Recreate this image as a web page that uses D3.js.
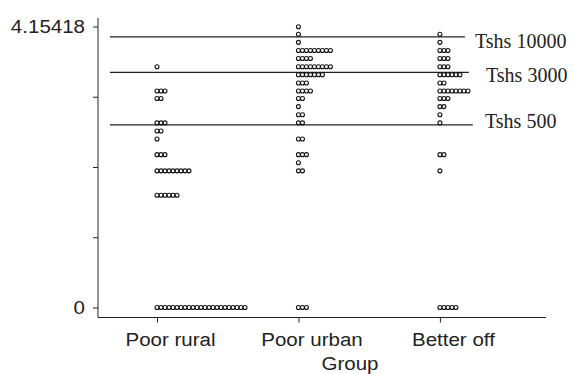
<!DOCTYPE html>
<html>
<head>
<meta charset="utf-8">
<script src="https://cdn.jsdelivr.net/npm/d3@7"></script>
<style>
  body { margin: 0; background: #fff; }
  svg text { fill: #222; }
</style>
</head>
<body>
<svg id="chart" width="574" height="374"></svg>
<script>
// group names along the x axis
const groups = ['Poor rural', 'Poor urban', 'Better off'];

// bin levels (log10 of amount) and number of dots per level, per group
const levels = [4.15, 4.04, 3.92, 3.80, 3.68, 3.56, 3.44, 3.32, 3.20, 3.09,
                2.97, 2.85, 2.73, 2.61, 2.49, 2.26, 2.14, 2.02, 1.66, 0];
const poorRural = [0, 0, 0, 0, 0, 1, 0, 0, 3, 2, 0, 0, 3, 2, 1, 3, 0, 9, 6, 23];
const poorUrban = [1, 1, 1, 9, 4, 9, 7, 3, 4, 2, 1, 2, 2, 0, 2, 3, 1, 2, 0, 3];
const betterOff = [0, 1, 1, 3, 3, 3, 6, 2, 8, 3, 2, 1, 1, 0, 0, 2, 0, 1, 0, 5];

// reference lines
const refValues = [4, 3.4771, 2.699];
const refLabels = ['Tshs 10000', 'Tshs 3000', 'Tshs 500'];

const yMax = 4.15418;
const yTicks = [0, yMax / 4, yMax / 2, yMax * 3 / 4, yMax];

const svg = d3.select('#chart');

const x = d3.scaleLinear().domain([0.583, 3.75]).range([98, 546]);
const y = d3.scaleLinear().domain([0, yMax]).range([307.5, 26.5]);

const sans = 'Liberation Sans, Arial, sans-serif';
const stretch = 1.08; // axis text looks a bit wide in the original

// y axis
const yAxis = d3.axisLeft(y)
  .tickValues(yTicks)
  .tickSize(5)
  .tickFormat(d => (d === 0 ? '0' : d === yMax ? '4.15418' : ''));

const gy = svg.append('g')
  .attr('transform', 'translate(98,0)')
  .call(yAxis);
gy.select('.domain').remove();
gy.append('line')
  .attr('x1', 0).attr('x2', 0)
  .attr('y1', 18).attr('y2', 317.5)
  .attr('stroke', '#222');
gy.selectAll('.tick line').attr('stroke', '#222');
gy.selectAll('.tick text')
  .attr('x', -13 / stretch)
  .attr('transform', `scale(${stretch},1)`)
  .attr('font-family', sans)
  .attr('font-size', 19)
  .attr('fill', '#222');

// x axis
const xAxis = d3.axisBottom(x)
  .tickValues([1, 2, 3])
  .tickSize(5)
  .tickPadding(10)
  .tickFormat(d => groups[d - 1]);

const gx = svg.append('g')
  .attr('transform', 'translate(0,317.5)')
  .call(xAxis);
gx.select('.domain').remove();
gx.append('line')
  .attr('x1', 98).attr('x2', 546)
  .attr('y1', 0).attr('y2', 0)
  .attr('stroke', '#222');
gx.selectAll('.tick line').attr('stroke', '#222');
gx.selectAll('.tick text')
  .attr('x', 13 / stretch)
  .attr('transform', `scale(${stretch},1)`)
  .attr('font-family', sans)
  .attr('font-size', 19)
  .attr('fill', '#222');

svg.append('text')
  .attr('transform', `translate(350,370) scale(${stretch},1)`)
  .attr('text-anchor', 'middle')
  .attr('font-family', sans)
  .attr('font-size', 19)
  .text('Group');

// reference lines + labels
const lineEnd = [3.177, 3.205, 3.233];
const labelX = [475, 486, 485];
const labelDy = [4, 3, -4];

svg.selectAll('.ref')
  .data(refValues)
  .enter()
  .append('line')
  .attr('class', 'ref')
  .attr('x1', x(0.667))
  .attr('x2', (d, i) => x(lineEnd[i]))
  .attr('y1', d => y(d))
  .attr('y2', d => y(d))
  .attr('stroke', '#222')
  .attr('stroke-width', 1.2);

svg.selectAll('.ref-label')
  .data(refValues)
  .enter()
  .append('text')
  .attr('class', 'ref-label')
  .attr('x', (d, i) => labelX[i])
  .attr('y', (d, i) => y(d) + labelDy[i])
  .attr('dy', '0.35em')
  .attr('font-family', 'Liberation Serif, Times New Roman, serif')
  .attr('font-size', 20)
  .text((d, i) => refLabels[i]);

// dots, left aligned from each group tick
const counts = [poorRural, poorUrban, betterOff];
const dotStep = 4;
const dots = [];
counts.forEach((arr, g) => {
  arr.forEach((n, li) => {
    for (let k = 0; k < n; k++) {
      dots.push({ g: g + 1, v: levels[li], k });
    }
  });
});

svg.append('g')
  .selectAll('circle')
  .data(dots)
  .enter()
  .append('circle')
  .attr('cx', d => x(d.g) + d.k * dotStep)
  .attr('cy', d => y(d.v))
  .attr('r', 2)
  .attr('fill', 'none')
  .attr('stroke', '#111')
  .attr('stroke-width', 1.1);
</script>
</body>
</html>
